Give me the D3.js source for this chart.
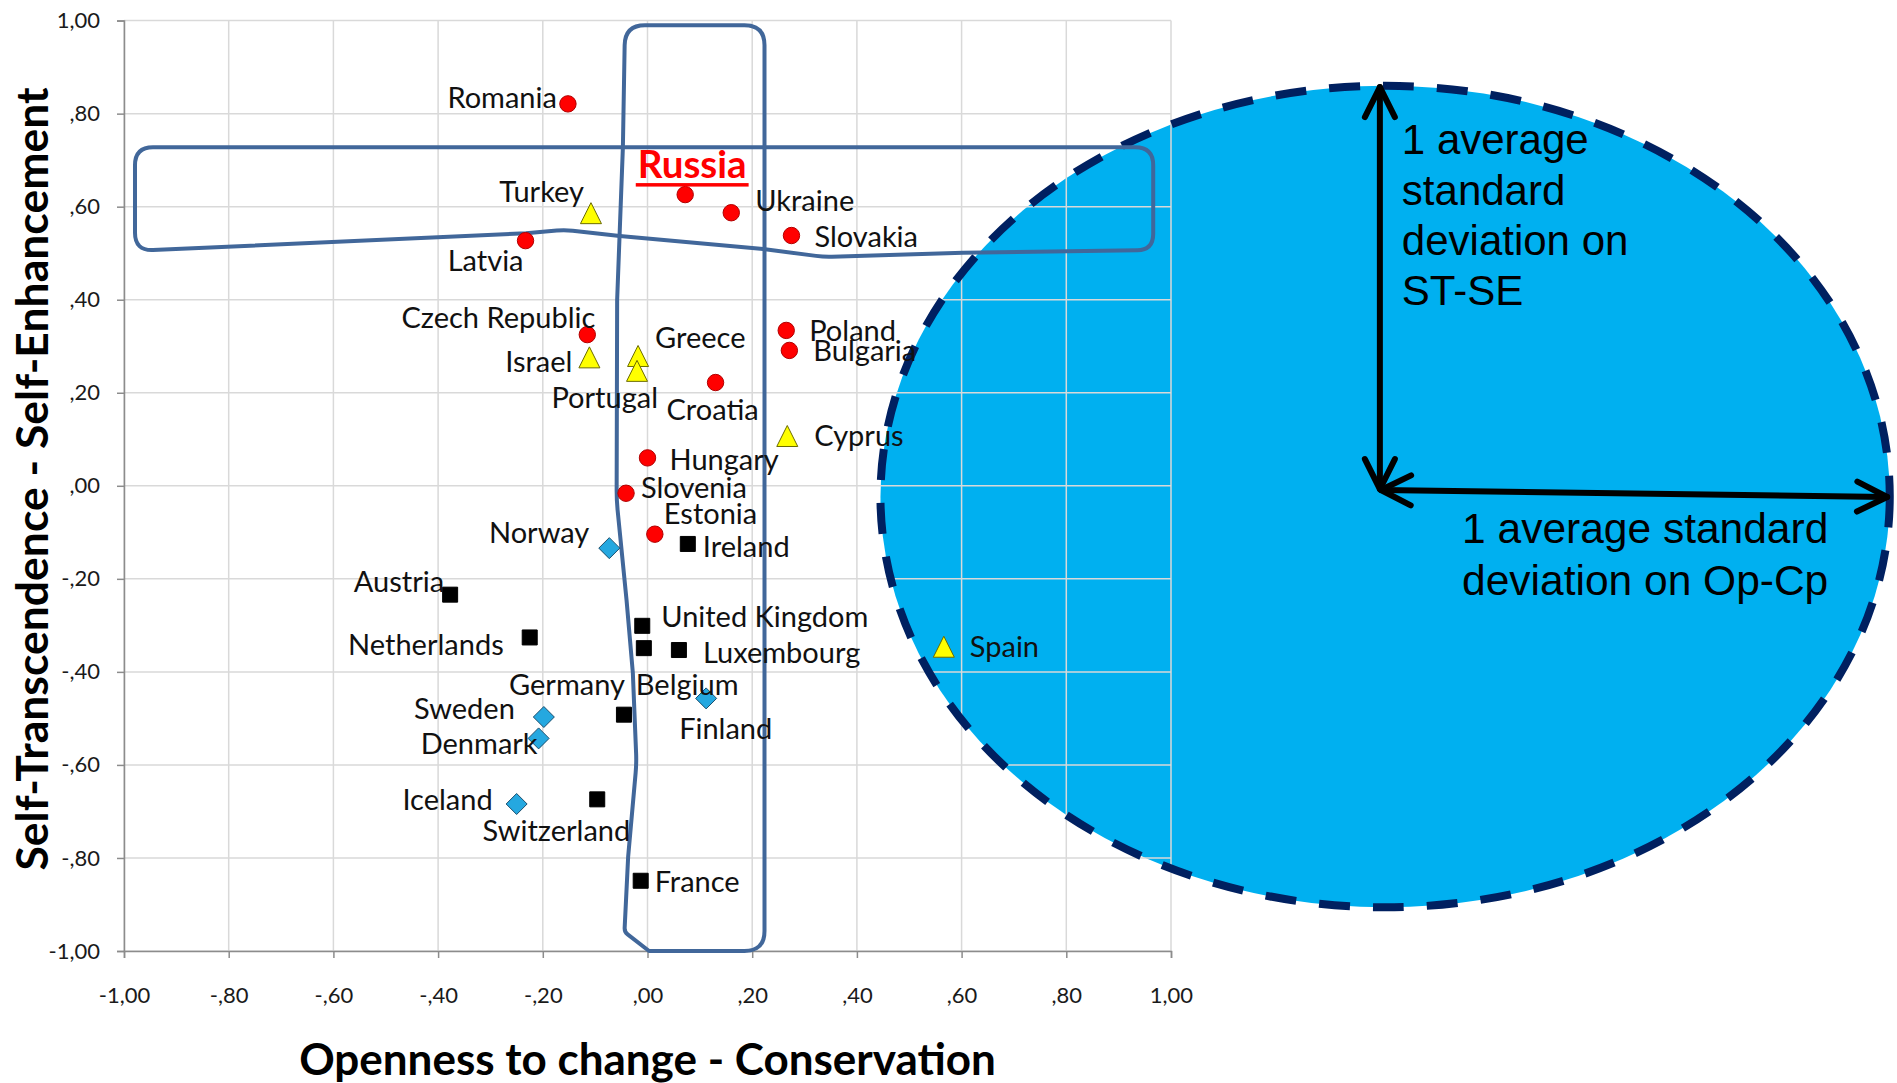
<!DOCTYPE html>
<html><head><meta charset="utf-8">
<script src="https://cdn.jsdelivr.net/npm/d3@7"></script>
<style>
html,body{margin:0;padding:0;background:#fff;}
svg{display:block;}
</style></head>
<body>
<svg id="chart" width="1897" height="1083"></svg>
<script>
// ---------------- DATA ----------------
const easternCountries = ["Romania","Russia","Ukraine","Slovakia","Latvia","Czech Republic","Poland","Bulgaria","Croatia","Hungary","Slovenia","Estonia"];
const easternX = [-0.152, 0.072, 0.160, 0.275, -0.233, -0.115, 0.265, 0.271, 0.130, 0.000, -0.041, 0.014];
const easternY = [0.821, 0.626, 0.587, 0.538, 0.527, 0.325, 0.334, 0.291, 0.222, 0.060, -0.016, -0.104];

const mediterraneanCountries = ["Turkey","Israel","Greece","Portugal","Cyprus","Spain"];
const mediterraneanX = [-0.108, -0.111, -0.018, -0.020, 0.267, 0.566];
const mediterraneanY = [0.585, 0.275, 0.278, 0.246, 0.106, -0.347];

const nordicCountries = ["Norway","Finland","Sweden","Denmark","Iceland"];
const nordicX = [-0.073, 0.112, -0.198, -0.208, -0.250];
const nordicY = [-0.134, -0.457, -0.497, -0.543, -0.684];

const westernCountries = ["Ireland","Austria","United Kingdom","Netherlands","Belgium","Luxembourg","Germany","Switzerland","France"];
const westernX = [0.077, -0.377, -0.010, -0.225, -0.007, 0.060, -0.045, -0.096, -0.013];
const westernY = [-0.125, -0.234, -0.301, -0.326, -0.349, -0.353, -0.492, -0.674, -0.849];

const tickValues = [-1, -0.8, -0.6, -0.4, -0.2, 0, 0.2, 0.4, 0.6, 0.8, 1];
const tickLabels = ["-1,00","-,80","-,60","-,40","-,20",",00",",20",",40",",60",",80","1,00"];

const xTitle = "Openness to change - Conservation";
const yTitle = "Self-Transcendence - Self-Enhancement";
const highlighted = "Russia";

// ---------------- LAYOUT / STYLE ----------------
const W = 1897, H = 1083;
const plot = {left: 124, right: 1171, top: 20.6, bottom: 951};
const labelFont = "Lato, 'Open Sans', sans-serif";

// label placement: [dx, dy, anchor] in px relative to marker
const labelPlacement = {
  "Romania": [-11, -6, "end"], "Ukraine": [24, -12, "start"], "Slovakia": [23, 1, "start"],
  "Latvia": [-2, 20, "end"], "Czech Republic": [8, -17, "end"], "Poland": [23, 0, "start"],
  "Bulgaria": [24, 0, "start"], "Croatia": [-49, 27, "start"], "Hungary": [22, 2, "start"],
  "Slovenia": [15, -5, "start"], "Estonia": [9, -20, "start"], "Turkey": [-7, -22, "end"],
  "Israel": [-17, 4, "end"], "Greece": [17, -19, "start"], "Portugal": [21, 26, "end"],
  "Cyprus": [27, -1, "start"], "Spain": [26, 0, "start"], "Norway": [-20, -15, "end"],
  "Finland": [-27, 30, "start"], "Sweden": [-29, -8, "end"], "Denmark": [-1, 5, "end"],
  "Iceland": [-24, -4, "end"], "Ireland": [15, 3, "start"], "Austria": [-6, -13, "end"],
  "United Kingdom": [19, -9, "start"], "Netherlands": [-26, 7, "end"], "Belgium": [-8, 37, "start"],
  "Luxembourg": [24, 3, "start"], "Germany": [1, -30, "end"], "Switzerland": [33, 32, "end"],
  "France": [14, 1, "start"]
};

const svg = d3.select("#chart");
svg.append("rect").attr("width", W).attr("height", H).attr("fill", "#fff");

const x = d3.scaleLinear().domain([-1, 1]).range([plot.left, plot.right]);
const y = d3.scaleLinear().domain([-1, 1]).range([plot.bottom, plot.top]);

// ---- annotation geometry (data units) ----
const sdEllipse = {cx: 1.409, cy: -0.023, rx: 0.964, ry: 0.883};
const ellipseSel = svg.append("ellipse")
  .attr("cx", x(sdEllipse.cx)).attr("cy", y(sdEllipse.cy))
  .attr("rx", x(sdEllipse.cx + sdEllipse.rx) - x(sdEllipse.cx))
  .attr("ry", y(sdEllipse.cy - sdEllipse.ry) - y(sdEllipse.cy))
  .attr("fill", "#00B0F0");

// ---- gridlines ----
const grid = svg.append("g");
grid.selectAll("line.v").data(tickValues).join("line")
  .attr("x1", d => x(d)).attr("x2", d => x(d))
  .attr("y1", plot.top).attr("y2", plot.bottom)
  .attr("stroke", "#d9d9d9").attr("stroke-width", 1.5);
grid.selectAll("line.h").data(tickValues).join("line")
  .attr("y1", d => y(d)).attr("y2", d => y(d))
  .attr("x1", plot.left).attr("x2", plot.right)
  .attr("stroke", "#d9d9d9").attr("stroke-width", 1.5);

// ---- axes ----
const fmt = d => tickLabels[tickValues.indexOf(d)];
const xAxis = d3.axisBottom(x).tickValues(tickValues).tickFormat(fmt).tickSize(7).tickPadding(26);
const yAxis = d3.axisLeft(y).tickValues(tickValues).tickFormat(fmt).tickSize(7).tickPadding(17);
const gx = svg.append("g").attr("transform", `translate(0,${plot.bottom})`).call(xAxis);
const gy = svg.append("g").attr("transform", `translate(${plot.left},0)`).call(yAxis);
[gx, gy].forEach(g => {
  g.select(".domain").attr("stroke", "#8c8c8c").attr("stroke-width", 1.5);
  g.selectAll(".tick line").attr("stroke", "#8c8c8c").attr("stroke-width", 1.5);
  g.selectAll(".tick text").attr("font-family", labelFont).attr("font-size", 22).attr("fill", "#1a1a1a");
});
gx.selectAll(".tick text").attr("dy", "0.35em").attr("y", 44);

// axis titles
svg.append("text").attr("x", x(0)).attr("y", 1075).attr("text-anchor", "middle")
  .attr("font-family", labelFont).attr("font-weight", 700).attr("font-size", 44).attr("fill", "#000")
  .text(xTitle);
svg.append("text").attr("transform", `translate(48,479) rotate(-90)`)
  .attr("text-anchor", "middle")
  .attr("font-family", labelFont).attr("font-weight", 700).attr("font-size", 44.5).attr("fill", "#000")
  .text(yTitle);

// dashed ellipse outline
svg.append("ellipse")
  .attr("cx", ellipseSel.attr("cx")).attr("cy", ellipseSel.attr("cy"))
  .attr("rx", ellipseSel.attr("rx")).attr("ry", ellipseSel.attr("ry"))
  .attr("fill", "none").attr("stroke", "#002060").attr("stroke-width", 8)
  .attr("stroke-dasharray", "31 23");

// ---- highlight outlines (data-unit vertices, with corner radius px) ----
const rowOutline = [
  [-0.979, 0.728, 18], [0.966, 0.728, 18], [0.966, 0.507, 16], [0.603, 0.501, 0],
  [0.337, 0.492, 8], [0.221, 0.509, 0], [-0.053, 0.537, 0], [-0.158, 0.550, 8],
  [-0.232, 0.543, 0], [-0.979, 0.505, 18]
];
const columnOutline = [
  [-0.043, 0.990, 20], [0.2235, 0.990, 20], [0.2235, -1.0, 20], [0.003, -1.0, 0],
  [-0.044, -0.959, 4], [-0.037, -0.798, 0], [-0.021, -0.596, 10], [-0.028, -0.402, 0],
  [-0.040, -0.246, 0], [-0.059, -0.031, 10], [-0.058, 0.399, 0], [-0.047, 0.728, 0]
];
function roundedPath(verts) {
  const p = verts.map(v => [x(v[0]), y(v[1]), v[2]]);
  const n = p.length;
  const mid = [(p[0][0] + p[1][0]) / 2, (p[0][1] + p[1][1]) / 2];
  let d = `M${mid[0]},${mid[1]}`;
  for (let k = 1; k <= n; k++) {
    const i = k % n;
    const cur = p[i], prev = p[(i - 1 + n) % n], next = p[(i + 1) % n];
    const r = cur[2];
    if (!r) { d += `L${cur[0]},${cur[1]}`; continue; }
    const l1 = Math.hypot(prev[0] - cur[0], prev[1] - cur[1]);
    const l2 = Math.hypot(next[0] - cur[0], next[1] - cur[1]);
    const r1 = Math.min(r, l1 / 2), r2 = Math.min(r, l2 / 2);
    const a = [cur[0] + (prev[0] - cur[0]) * r1 / l1, cur[1] + (prev[1] - cur[1]) * r1 / l1];
    const b = [cur[0] + (next[0] - cur[0]) * r2 / l2, cur[1] + (next[1] - cur[1]) * r2 / l2];
    d += `L${a[0]},${a[1]}Q${cur[0]},${cur[1]} ${b[0]},${b[1]}`;
  }
  return d + `L${mid[0]},${mid[1]}Z`;
}
[rowOutline, columnOutline].forEach(v => {
  svg.append("path").attr("d", roundedPath(v)).attr("fill", "none")
    .attr("stroke", "#41679A").attr("stroke-width", 4).attr("stroke-linejoin", "round");
});

// ---- data points ----
const series = [
  {names: easternCountries, xs: easternX, ys: easternY, shape: "circle", fill: "#FF0000", stroke: "#B00000"},
  {names: mediterraneanCountries, xs: mediterraneanX, ys: mediterraneanY, shape: "triangle", fill: "#FFFF00", stroke: "#6b6b00"},
  {names: nordicCountries, xs: nordicX, ys: nordicY, shape: "diamond", fill: "#25A8E0", stroke: "#1b4f6e"},
  {names: westernCountries, xs: westernX, ys: westernY, shape: "square", fill: "#000000", stroke: "#000000"}
];
const shapePath = {
  circle: "M8.2,0A8.2,8.2 0 1,1 -8.2,0A8.2,8.2 0 1,1 8.2,0Z",
  triangle: "M0,-11L10.5,10L-10.5,10Z",
  diamond: "M0,-10.5L10.5,0L0,10.5L-10.5,0Z",
  square: "M-7.5,-7.5H7.5V7.5H-7.5Z"
};
const points = [];
series.forEach(s => s.names.forEach((n, i) => points.push({name: n, x: s.xs[i], y: s.ys[i], s})));

svg.append("g").selectAll("path").data(points).join("path")
  .attr("transform", d => `translate(${x(d.x)},${y(d.y)})`)
  .attr("d", d => shapePath[d.s.shape])
  .attr("fill", d => d.s.fill).attr("stroke", d => d.s.stroke).attr("stroke-width", 1);

// labels
svg.append("g").selectAll("text").data(points.filter(d => d.name !== highlighted)).join("text")
  .attr("x", d => x(d.x) + labelPlacement[d.name][0])
  .attr("y", d => y(d.y) + labelPlacement[d.name][1])
  .attr("dy", "0.35em")
  .attr("text-anchor", d => labelPlacement[d.name][2])
  .attr("font-family", labelFont).attr("font-size", 29).attr("fill", "#111")
  .text(d => d.name);

// highlighted label
const hp = points.find(d => d.name === highlighted);
const ht = svg.append("text")
  .attr("x", x(hp.x) + 7).attr("y", y(hp.y) - 16.7)
  .attr("text-anchor", "middle")
  .attr("font-family", labelFont).attr("font-weight", 700).attr("font-size", 38.5).attr("fill", "#FF0000")
  .text(highlighted);
const bb = ht.node().getBBox();
svg.append("rect").attr("x", bb.x - 2).attr("y", y(hp.y) - 11.5).attr("width", bb.width + 4).attr("height", 3.5)
  .attr("fill", "#FF0000");

// ---- standard deviation arrows ----
const arrowV = {x1: 1.399, y1: -0.007, x2: 1.399, y2: 0.857};
const arrowH = {x1: 1.401, y1: -0.009, x2: 2.368, y2: -0.024};
function headPath(tx, ty, fx, fy) {
  const ang = Math.atan2(ty - fy, tx - fx);
  const L = 30, hw = 15;
  const bx = tx - L * Math.cos(ang), by = ty - L * Math.sin(ang);
  const px = -Math.sin(ang) * hw, py = Math.cos(ang) * hw;
  return `M${bx + px},${by + py}L${tx},${ty}L${bx - px},${by - py}`;
}
[arrowV, arrowH].forEach(a => {
  const X1 = x(a.x1), Y1 = y(a.y1), X2 = x(a.x2), Y2 = y(a.y2);
  const g = svg.append("g").attr("stroke", "#000").attr("stroke-width", 6).attr("fill", "none")
    .attr("stroke-linecap", "round").attr("stroke-linejoin", "round");
  g.append("line").attr("x1", X1).attr("y1", Y1).attr("x2", X2).attr("y2", Y2);
  g.append("path").attr("d", headPath(X2, Y2, X1, Y1));
  g.append("path").attr("d", headPath(X1, Y1, X2, Y2));
});

const sdTextV = ["1 average", "standard", "deviation on", "ST-SE"];
const sdTextH = ["1 average standard", "deviation on Op-Cp"];
const tV = svg.append("text").attr("font-family", "'Liberation Sans', Arial, sans-serif").attr("font-size", 42).attr("fill", "#000");
sdTextV.forEach((s, i) => tV.append("tspan").attr("x", x(1.441)).attr("y", y(0.713) + i * 50.4).text(s));
const tH = svg.append("text").attr("font-family", "'Liberation Sans', Arial, sans-serif").attr("font-size", 42.5).attr("fill", "#000");
sdTextH.forEach((s, i) => tH.append("tspan").attr("x", x(1.556)).attr("y", y(-0.123) + i * 51.5).text(s));
</script>
</body></html>
